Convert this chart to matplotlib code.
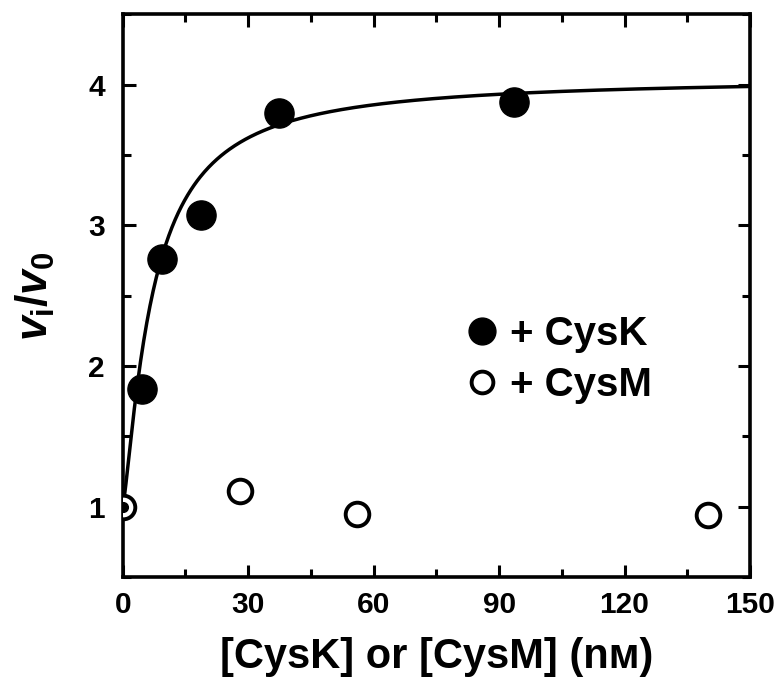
import numpy as np
import matplotlib
matplotlib.use('Agg')
import matplotlib.pyplot as plt
from matplotlib.ticker import MultipleLocator

plt.rcParams['font.family'] = ['Liberation Sans', 'DejaVu Sans']
plt.rcParams['font.weight'] = 'bold'
plt.rcParams['mathtext.fontset'] = 'custom'
plt.rcParams['mathtext.it'] = 'Liberation Sans:bold:italic'
plt.rcParams['mathtext.rm'] = 'Liberation Sans:bold'
plt.rcParams['mathtext.bf'] = 'Liberation Sans:bold'

# Daten
cysk_x = [0, 4.67, 9.35, 18.7, 37.4, 93.5]
cysk_y = [1.0, 1.84, 2.76, 3.07, 3.80, 3.88]

cysm_x = [0, 28, 56, 140]
cysm_y = [1.0, 1.11, 0.95, 0.94]

# Parameter der angepassten Kurve (Hill)
fit_amp = 3.05
fit_k = 7.2
fit_n = 1.27

x_ticks = [0, 30, 60, 90, 120, 150]
y_ticks = [1, 2, 3, 4]

fig = plt.figure(figsize=(7.82, 6.79), dpi=100)
ax = fig.add_axes([0.157, 0.150, 0.802, 0.829])

xs = np.linspace(0, 150, 600)
ys = 1 + fit_amp * xs ** fit_n / (fit_k ** fit_n + xs ** fit_n)
ax.plot(xs, ys, color='k', lw=2.5, zorder=2)

ax.plot(cysm_x, cysm_y, 'o', ms=17, mfc='white', mec='k', mew=2.8, zorder=3,
        label='+ CysM')
ax.plot(cysk_x[1:], cysk_y[1:], 'o', ms=21, color='k', zorder=4, label='+ CysK')
ax.plot(cysk_x[:1], cysk_y[:1], 'o', ms=7, color='k', zorder=5)

ax.set_xlim(0, 150)
ax.set_ylim(0.5, 4.5)
ax.set_xticks(x_ticks)
ax.set_yticks(y_ticks)
ax.xaxis.set_minor_locator(MultipleLocator(15))
ax.yaxis.set_minor_locator(MultipleLocator(0.5))
ax.tick_params(which='both', direction='in', top=True, right=True, width=2.2,
               labelsize=21.5)
ax.tick_params(axis='x', pad=10)
ax.tick_params(axis='y', pad=13)
ax.tick_params(which='major', length=9)
ax.tick_params(which='minor', length=6)
for s in ax.spines.values():
    s.set_linewidth(2.6)

ax.set_xlabel('[CysK] or [CysM] (n\u1d0d)', fontsize=30, fontweight='bold', labelpad=13)
ax.set_ylabel(r'$v_\mathrm{i}/v_\mathrm{0}$', fontsize=32, labelpad=22)

h, l = ax.get_legend_handles_labels()
ax.legend(h[::-1], l[::-1], loc='center left', bbox_to_anchor=(0.541, 0.386), frameon=False,
          fontsize=29, handletextpad=0.2, labelspacing=0.32, handlelength=1.0,
          borderpad=0, borderaxespad=0, markerscale=0.92)

fig.savefig('out.png', dpi=100)
